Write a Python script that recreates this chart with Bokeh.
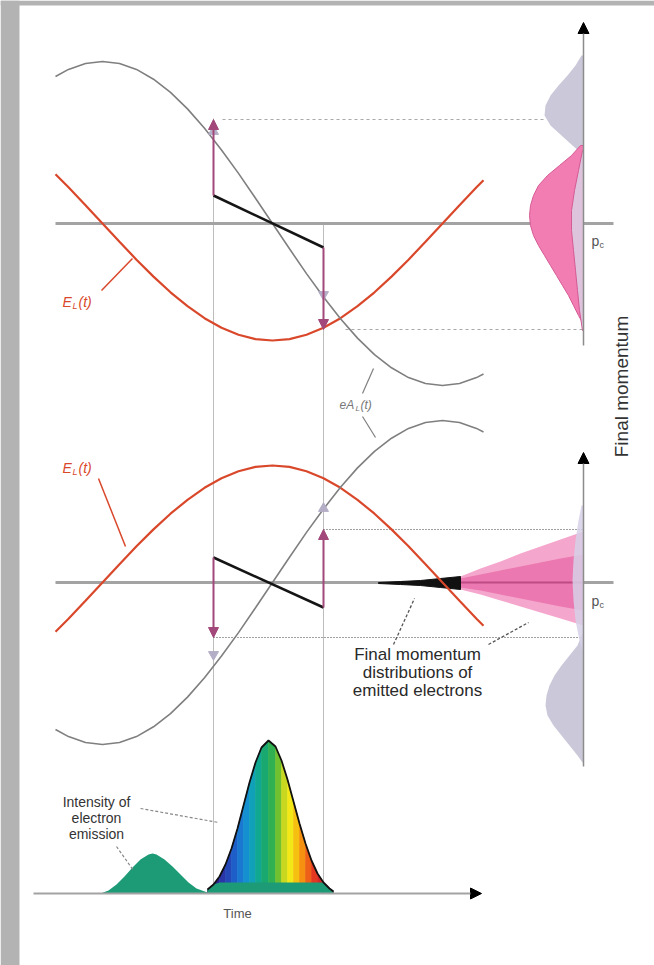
import math
from bokeh.plotting import figure
from bokeh.models import Range1d, Arrow, NormalHead, ColumnDataSource
from bokeh.core.properties import value
from bokeh.embed import file_html
from bokeh.resources import INLINE

W, H = 654, 965
FONT = value("Liberation Sans")

# ---------------------------------------------------------------------------
# Laser waveforms sampled along the time axis (canvas units, y grows downward)
# ---------------------------------------------------------------------------
t = [55, 68, 85, 102, 119, 136, 153, 170, 187, 204, 221, 238, 255, 272, 289,
     306, 323, 340, 357, 374, 391, 408, 425, 442, 459, 476, 483]
vecpot_upper = [76.0, 68.9, 63.0, 61.0, 63.0, 68.9, 78.7, 91.9, 108.4, 127.8,
                149.5, 172.9, 197.7, 223.0, 248.3, 273.1, 296.5, 318.2, 337.6,
                354.1, 367.3, 377.1, 383.0, 385.0, 383.0, 377.1, 373.5]
field_upper = [173.8, 186.8, 204.7, 223.0, 241.3, 259.2, 276.1, 291.8, 305.7,
               317.7, 327.2, 334.3, 338.6, 340.0, 338.6, 334.3, 327.2, 317.7,
               305.7, 291.8, 276.1, 259.2, 241.3, 223.0, 204.7, 186.8, 179.7]
vecpot_lower = [729.0, 736.1, 742.0, 744.0, 742.0, 736.1, 726.3, 713.1, 696.6,
                677.2, 655.5, 632.1, 607.3, 582.0, 556.7, 531.9, 508.5, 486.8,
                467.4, 450.9, 437.7, 427.9, 422.0, 420.0, 422.0, 427.9, 431.5]
field_lower = [631.2, 618.2, 600.3, 582.0, 563.7, 545.8, 528.9, 513.2, 499.3,
               487.3, 477.8, 470.7, 466.4, 465.0, 466.4, 470.7, 477.8, 487.3,
               499.3, 513.2, 528.9, 545.8, 563.7, 582.0, 600.3, 618.2, 625.3]

zero_upper = 223
zero_lower = 582
zero_x0, zero_x1 = 55, 613

# ionisation instants and electron momenta (birth -> final)
t_ion = [213, 323]
guide_top = [118, 223]
birth_upper = [195, 247]
final_upper = [119, 329]
eA_upper = [131, 294]
birth_lower = [557, 607]
final_lower = [637, 529]
eA_lower = [654, 508]
eA_marker_upper = ["triangle", "inverted_triangle"]
eA_marker_lower = ["inverted_triangle", "triangle"]
dotted_from_upper = [222, 345]
dotted_to_upper = [546, 583]

# ---------------------------------------------------------------------------
# Final-momentum distributions (momentum position -> extent left of the axis)
# ---------------------------------------------------------------------------
p_axis_x = 583
up_gray_p = [55, 65, 75, 85, 95, 105, 115, 125, 135, 145, 152]
up_gray_w = [2, 8, 16, 25, 33, 38, 39, 33, 22, 11, 3]
up_pink_p = [145, 155, 165, 175, 185, 195, 205, 215, 225, 235, 245, 255, 265,
             275, 285, 295, 305, 315, 322]
up_pink_w = [3, 12, 24, 36, 45, 50, 53, 54, 53, 50, 45, 39, 33, 27, 21, 15,
             10, 5, 1]
up_core_p = [150, 170, 190, 210, 230, 250, 270, 290, 310, 330]
up_core_w = [1, 5, 9, 12, 12, 10, 8, 6, 4, 1]

low_gray_p = [633, 645, 655, 665, 675, 685, 695, 705, 715, 725, 735, 745,
              755, 762]
low_gray_w = [1, 6, 14, 22, 29, 34, 37, 38, 36, 30, 22, 14, 6, 1]
low_core_p = [505, 520, 540, 560, 580, 600, 620, 640, 650]
low_core_w = [2, 5, 8, 10, 11, 10, 8, 4, 1]

cone_x = [460, 480, 500, 520, 540, 560, 583]
cone_outer_top = [576, 568, 561, 553, 546, 539, 531]
cone_outer_bot = [589, 594, 600, 606, 612, 618, 625]
cone_inner_top = [578, 574, 570, 566, 562, 558, 554]
cone_inner_bot = [587, 590, 594, 598, 602, 606, 610]
spike_x = [378, 400, 420, 440, 460]
spike_top = [582, 581, 580, 578, 576]
spike_bot = [583, 584, 585, 587, 589]

# ---------------------------------------------------------------------------
# Electron emission intensity versus time
# ---------------------------------------------------------------------------
time_axis_y = 893
bump_t = [100, 108, 116, 124, 132, 140, 148, 152, 156, 164, 172, 180, 188,
          196, 207]
bump_h = [0, 3, 9, 17, 26, 34, 39, 40, 39, 34, 27, 19, 11, 5, 1]
pulse_t = [207, 213, 219, 225, 231, 237, 243, 249, 255, 261, 268, 275, 281,
           287, 293, 299, 305, 311, 317, 323, 329, 333]
pulse_h = [4, 9, 17, 29, 45, 65, 88, 111, 131, 146, 153, 147, 133, 114, 92,
           70, 50, 33, 20, 11, 5, 2]
pedestal_h = [4, 9, 11, 11, 11, 11, 11, 11, 11, 11, 11, 11, 11, 11, 11, 11,
              11, 11, 11, 11, 5, 2]
pulse_colors = ["#2b1a6e", "#2e2290", "#2a35a8", "#2448b8", "#1e5ec8",
                "#1a78d0", "#1490d0", "#10a0b8", "#10a890", "#18a870",
                "#30b050", "#70c030", "#c8d820", "#f2e818", "#f6c010",
                "#f59010", "#ee6018", "#e43820", "#d42828", "#c42030",
                "#a01830"]

# ---------------------------------------------------------------------------
GRAY_CURVE = "#7f7f7f"
RED = "#d9482b"
PURPLE = "#a2487a"
LAVENDER = "#cbc8da"
PINK = "#f27db2"
PINK_EDGE = "#d45a95"

p = figure(width=W, height=H, x_range=Range1d(0, W), y_range=Range1d(H, 0),
           output_backend="svg", toolbar_location=None, min_border=0,
           x_axis_location=None, y_axis_location=None,
           background_fill_color="white", border_fill_color="white")
p.grid.visible = False
p.outline_line_color = None

# page frame
p.quad(left=[0, 0], right=[19, W], top=[0, 0], bottom=[H, 5],
       fill_color="#b3b3b3", line_color=None)

# vertical guides at the ionisation instants
p.segment(x0=t_ion, y0=guide_top, x1=t_ion, y1=[time_axis_y] * 2,
          line_color="#bdbdbd", line_width=1)

# zero-momentum lines
p.segment(x0=[zero_x0] * 2, y0=[zero_upper, zero_lower],
          x1=[zero_x1] * 2, y1=[zero_upper, zero_lower],
          line_color="#a3a3a3", line_width=3)

# dotted final-momentum levels
p.segment(x0=dotted_from_upper, y0=final_upper, x1=dotted_to_upper,
          y1=final_upper, line_color="#a8a8a8", line_width=1,
          line_dash="3 3")
p.segment(x0=t_ion, y0=final_lower, x1=[p_axis_x] * 2, y1=final_lower,
          line_color="#444444", line_width=1.2, line_dash="1 2")


def side_patch(ps, ws):
    xs = [p_axis_x] + [p_axis_x - w for w in ws] + [p_axis_x]
    ys = [ps[0]] + list(ps) + [ps[-1]]
    return xs, ys


# momentum distributions
gx, gy = side_patch(up_gray_p, up_gray_w)
p.patch(gx, gy, fill_color=LAVENDER, line_color=None)
px_, py_ = side_patch(up_pink_p, up_pink_w)
p.patch(px_, py_, fill_color=PINK, line_color=PINK_EDGE, line_width=1)
cx, cy = side_patch(up_core_p, up_core_w)
p.patch(cx, cy, fill_color="#d9cfe3", fill_alpha=0.85,
        line_color=PINK_EDGE, line_width=1)

lx, ly = side_patch(low_gray_p, low_gray_w)
p.patch(lx, ly, fill_color=LAVENDER, line_color=None)
p.patch(cone_x + cone_x[::-1], cone_outer_top + cone_outer_bot[::-1],
        fill_color="#f5a6cc", line_color=None)
p.patch(cone_x + cone_x[::-1], cone_inner_top + cone_inner_bot[::-1],
        fill_color="#eb78b0", line_color=None)
p.line(cone_x, [zero_lower] * len(cone_x), line_color="#c04a85",
       line_width=2)
lcx, lcy = side_patch(low_core_p, low_core_w)
p.patch(lcx, lcy, fill_color="#d6d0e6", fill_alpha=0.85, line_color=None)
p.patch(spike_x + spike_x[::-1], spike_top + spike_bot[::-1],
        fill_color="#111111", line_color="#111111", line_width=1)

# momentum axes
axis_src = ColumnDataSource(dict(x0=[p_axis_x, p_axis_x], y0=[345, 766],
                                 x1=[p_axis_x, p_axis_x], y1=[22, 452]))
p.add_layout(Arrow(end=NormalHead(size=11, fill_color="black",
                                  line_color="black"),
                   x_start="x0", y_start="y0", x_end="x1", y_end="y1",
                   source=axis_src, line_color="#8c8c8c", line_width=1.5))

# waveforms
p.line(t, field_upper, line_color=RED, line_width=2.2)
p.line(t, field_lower, line_color=RED, line_width=2.2)
p.line(t, vecpot_upper, line_color=GRAY_CURVE, line_width=1.6)
p.line(t, vecpot_lower, line_color=GRAY_CURVE, line_width=1.6)

# initial momentum drift (black) between the two instants
p.line(t_ion, birth_upper, line_color="#151515", line_width=2.6)
p.line(t_ion, birth_lower, line_color="#151515", line_width=2.6)

# vector-potential marks
p.scatter(t_ion, eA_upper, marker=eA_marker_upper, size=10,
          fill_color="#b4aec6", line_color="#b4aec6")
p.scatter(t_ion, eA_lower, marker=eA_marker_lower, size=10,
          fill_color="#b4aec6", line_color="#b4aec6")

# momentum transfer arrows
kick_src = ColumnDataSource(dict(x0=t_ion + t_ion, y0=birth_upper + birth_lower,
                                 x1=t_ion + t_ion, y1=final_upper + final_lower))
p.add_layout(Arrow(end=NormalHead(size=10, fill_color=PURPLE,
                                  line_color=PURPLE),
                   x_start="x0", y_start="y0", x_end="x1", y_end="y1",
                   source=kick_src, line_color=PURPLE, line_width=2))

# emission intensity
p.varea(x=bump_t, y1=[time_axis_y] * len(bump_t),
        y2=[time_axis_y - h for h in bump_h], fill_color="#1d9a76")
strip_xs, strip_ys = [], []
for i in range(len(pulse_t) - 1):
    strip_xs.append([pulse_t[i], pulse_t[i], pulse_t[i + 1], pulse_t[i + 1]])
    strip_ys.append([time_axis_y, time_axis_y - pulse_h[i],
                     time_axis_y - pulse_h[i + 1], time_axis_y])
p.patches(strip_xs, strip_ys, fill_color=pulse_colors,
          line_color=pulse_colors, line_width=0.6)
p.varea(x=pulse_t, y1=[time_axis_y] * len(pulse_t),
        y2=[time_axis_y - h for h in pedestal_h], fill_color="#1d9a76")
p.line(pulse_t, [time_axis_y - h for h in pulse_h], line_color="#111111",
       line_width=1.8)

# time axis
time_src = ColumnDataSource(dict(x0=[33], y0=[time_axis_y], x1=[481],
                                 y1=[time_axis_y]))
p.add_layout(Arrow(end=NormalHead(size=11, fill_color="black",
                                  line_color="black"),
                   x_start="x0", y_start="y0", x_end="x1", y_end="y1",
                   source=time_src, line_color="#a3a3a3", line_width=2))

# leader lines
p.segment(x0=[101, 98], y0=[290, 478], x1=[132, 125], y1=[258, 546],
          line_color=RED, line_width=1.5)
p.segment(x0=[362, 362], y0=[393, 416], x1=[373, 375], y1=[368, 437],
          line_color=GRAY_CURVE, line_width=1.2)
p.segment(x0=[393, 488], y0=[644, 644], x1=[414, 528], y1=[598, 622],
          line_color="#555555", line_width=1.3, line_dash="3 2")
p.segment(x0=[140, 116], y0=[808, 846], x1=[218, 133], y1=[822, 870],
          line_color="#888888", line_width=1.2, line_dash="3 2")


# labels
def label(x, y, txt, size="13px", color="#333333", style="normal",
          align="left", angle=0.0):
    p.text(x=[x], y=[y], text=[txt], text_font=FONT, text_font_size=size,
           text_color=color, text_font_style=style, text_align=align,
           text_baseline="middle", angle=angle)


for ly0 in (301, 467):
    label(62, ly0, "E", "14px", RED, "italic")
    label(72, ly0 + 4, "L", "9px", RED, "italic")
    label(78, ly0, "(t)", "14px", RED, "italic")

label(339, 404, "eA", "12px", "#777777", "italic")
label(355, 408, "L", "8px", "#777777", "italic")
label(360, 404, "(t)", "12px", "#777777", "italic")

for py0 in (240, 600):
    label(591, py0, "p", "14px", "#555555")
    label(599, py0 + 4, "c", "9px", "#555555")

label(621, 386, "Final momentum", "19px", "#333333", align="center",
      angle=math.pi / 2)

for i, line in enumerate(["Final momentum", "distributions of",
                          "emitted electrons"]):
    label(417, 654 + 18 * i, line, "17px", "#2a2a2a", align="center")

for i, line in enumerate(["Intensity of", "electron", "emission"]):
    label(96, 801 + 16 * i, line, "14px", "#333333", align="center")

label(237, 913, "Time", "13px", "#555555", align="center")

open("out.html", "w").write(file_html(p, INLINE))
